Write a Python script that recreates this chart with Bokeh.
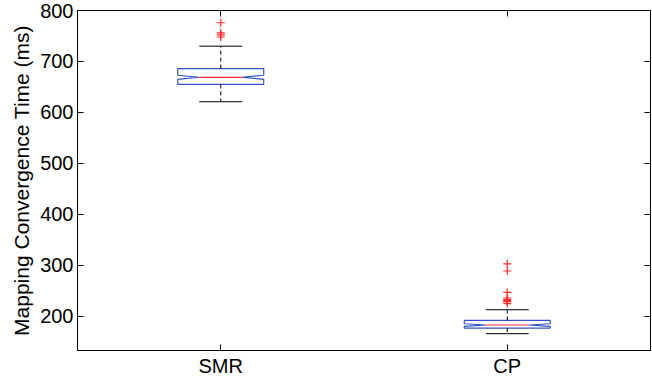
from bokeh.plotting import figure
from bokeh.models import Range1d, FixedTicker, LinearAxis, ColumnDataSource, CustomJSTickFormatter
from bokeh.embed import file_html
from bokeh.resources import INLINE

# ---- data ----
categories = ["SMR", "CP"]
q1 = [655, 177]
medians = [669, 183]
q3 = [686, 192]
whisker_low = [621, 166]
whisker_high = [730, 213]
notch_half = [4, 2.5]
outliers_smr = [776, 756, 752, 748]
outliers_cp = [303, 289, 247, 236, 233, 231, 229, 225]
y_ticks = [200, 300, 400, 500, 600, 700, 800]

positions = [i + 1 for i in range(len(categories))]
box_w = 0.3

BLUE = "#3352c4"
RED = "#ff2a2a"
FONT = "Liberation Sans"

p = figure(width=652, height=381,
           x_range=Range1d(0.5, 2.5), y_range=Range1d(133, 800),
           output_backend="svg", toolbar_location=None,
           min_border_left=77, min_border_right=2,
           min_border_top=10, min_border_bottom=31)
p.xgrid.visible = False
p.ygrid.visible = False
p.outline_line_color = "black"
p.outline_line_width = 1

# boxes (notched)
xs, ys = [], []
for pos, a, m, b, n in zip(positions, q1, medians, q3, notch_half):
    L, R = pos - box_w / 2, pos + box_w / 2
    Li, Ri = pos - box_w / 4, pos + box_w / 4
    xs.append([L, L, Li, L, L, R, R, Ri, R, R])
    ys.append([a, m - n, m, m + n, b, b, m + n, m, m - n, a])
p.patches(xs, ys, fill_alpha=0, line_color=BLUE, line_width=1.2)

# whiskers
src = ColumnDataSource(dict(
    pos=positions, q1=q1, q3=q3, lo=whisker_low, hi=whisker_high, med=medians,
    cl=[x - box_w / 4 for x in positions], cr=[x + box_w / 4 for x in positions],
))
p.segment(x0="pos", y0="q3", x1="pos", y1="hi", source=src,
          line_color="black", line_dash="4 3", line_width=1)
p.segment(x0="pos", y0="q1", x1="pos", y1="lo", source=src,
          line_color="black", line_dash="4 3", line_width=1)
# caps
p.segment(x0="cl", y0="hi", x1="cr", y1="hi", source=src, line_color="black", line_width=1)
p.segment(x0="cl", y0="lo", x1="cr", y1="lo", source=src, line_color="black", line_width=1)
# medians
p.segment(x0="cl", y0="med", x1="cr", y1="med", source=src, line_color=RED, line_width=1.2)

# outliers
ox = [positions[0]] * len(outliers_smr) + [positions[1]] * len(outliers_cp)
oy = outliers_smr + outliers_cp
p.scatter(ox, oy, marker="cross", size=8, line_color=RED, line_width=1.2)

# axes
for ax in (p.xaxis, p.yaxis):
    ax.major_tick_in = 6
    ax.major_tick_out = 0
    ax.minor_tick_in = 0
    ax.minor_tick_out = 0
    ax.axis_line_color = "black"
    ax.major_tick_line_color = "black"
    ax.major_label_text_font = FONT
    ax.major_label_text_font_size = "20px"
    ax.major_label_text_color = "black"

p.xaxis.ticker = FixedTicker(ticks=positions)
p.xaxis.major_label_overrides = {pos: c for pos, c in zip(positions, categories)}
p.xaxis.major_label_standoff = 4
p.yaxis.ticker = FixedTicker(ticks=y_ticks)
p.yaxis.major_label_standoff = 4
p.yaxis.axis_label = "Mapping Convergence Time (ms)"
p.yaxis.axis_label_text_font = FONT
p.yaxis.axis_label_text_font_size = "21px"
p.yaxis.axis_label_text_font_style = "normal"
p.yaxis.axis_label_text_color = "black"
p.yaxis.axis_label_standoff = 4

blank = CustomJSTickFormatter(code="return '';")
for loc, ticks in (("right", y_ticks), ("above", positions)):
    ax = LinearAxis(ticker=FixedTicker(ticks=ticks), formatter=blank,
                    major_tick_in=6, major_tick_out=0,
                    minor_tick_in=0, minor_tick_out=0,
                    major_label_standoff=0,
                    axis_line_color="black", major_tick_line_color="black")
    p.add_layout(ax, loc)

open("out.html", "w").write(file_html(p, INLINE))
